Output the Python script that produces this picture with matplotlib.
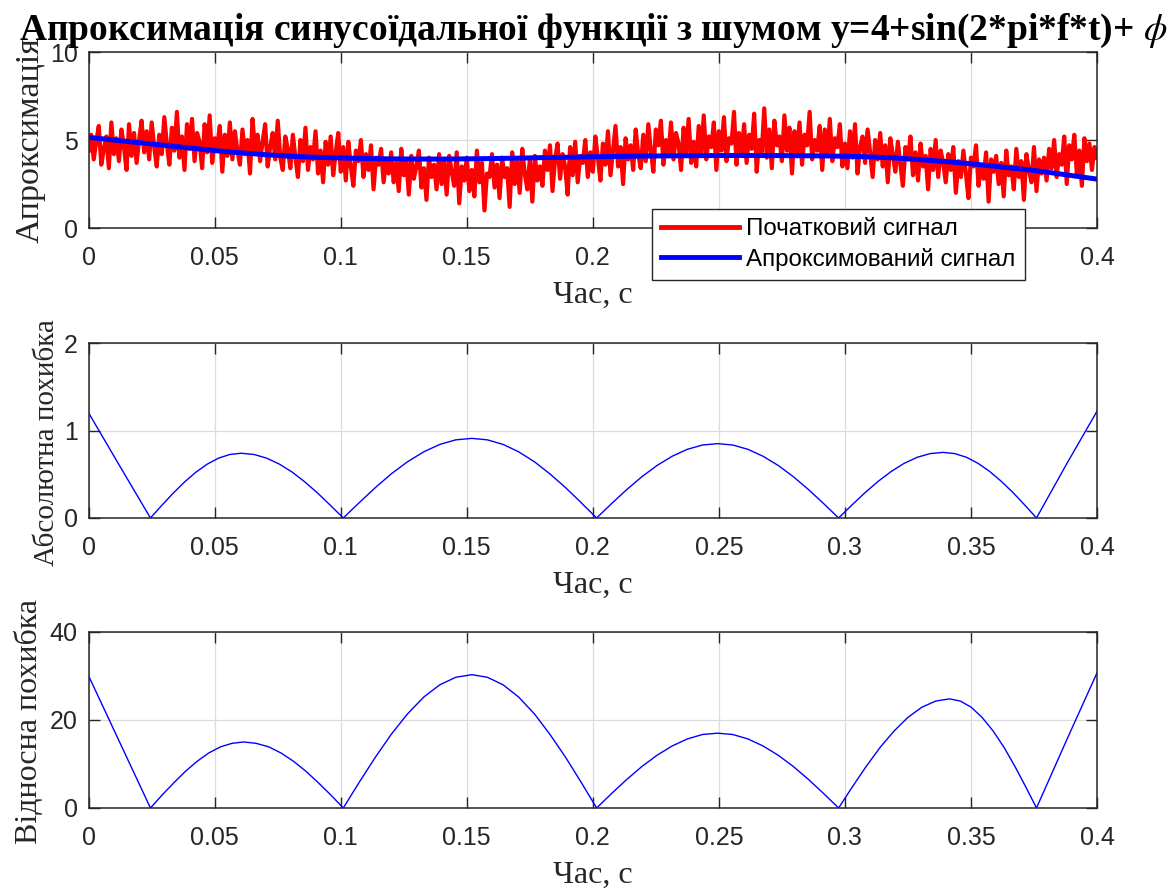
import numpy as np
import matplotlib
matplotlib.use("Agg")
import matplotlib.pyplot as plt
from matplotlib.ticker import FixedLocator

# ---------------- data ----------------
t_sig = np.linspace(0, 0.4, 401)
signal = [
    4.4, 5.3, 3.9, 4.9, 5.8, 3.6, 4.5, 5.2, 3.4, 6.0, 4.2, 5.1, 3.8, 5.6, 4.6, 3.3, 5.9, 4.1, 5.4, 3.7,
    5.0, 6.1, 4.3, 5.5, 3.9, 6.0, 4.6, 3.5, 5.3, 4.2, 6.3, 4.8, 3.6, 5.7, 4.4, 6.6, 4.0, 5.2, 3.3, 5.9,
    4.5, 6.2, 3.8, 5.4, 4.9, 3.4, 5.9, 4.3, 6.4, 3.7, 5.1, 4.6, 5.8, 3.2, 5.3, 4.1, 6.0, 3.9, 5.5, 4.4,
    3.6, 5.6, 4.2, 5.0, 3.1, 6.2, 4.4, 5.3, 3.8, 4.9, 5.9, 3.5, 4.6, 5.4, 3.9, 6.1, 4.0, 3.3, 5.2, 4.5,
    3.4, 5.3, 4.0, 2.9, 5.0, 3.8, 5.7, 3.3, 4.6, 3.9, 5.5, 3.1, 4.4, 2.6, 4.9, 3.6, 5.2, 3.0, 4.3, 5.4,
    3.2, 4.6, 2.7, 4.9, 3.5, 2.4, 4.4, 3.8, 5.0, 2.9, 4.2, 3.3, 4.7, 2.2, 4.0, 3.6, 4.5, 2.6, 3.9, 3.1,
    4.3, 2.6, 3.7, 2.1, 4.5, 3.0, 3.9, 1.9, 4.1, 2.8, 3.5, 4.4, 2.3, 3.4, 1.6, 4.0, 2.9, 3.6, 2.2, 4.2,
    2.5, 3.8, 1.9, 4.1, 3.2, 2.4, 4.3, 1.4, 3.5, 2.7, 4.0, 2.1, 3.3, 1.8, 4.4, 2.6, 3.7, 1.0, 3.1, 2.9,
    4.2, 2.3, 3.6, 1.7, 4.0, 2.9, 3.4, 1.2, 4.3, 2.5, 3.8, 2.0, 4.5, 3.1, 2.2, 3.9, 1.5, 4.1, 2.7, 3.5,
    2.4, 4.4, 3.3, 4.7, 2.1, 3.9, 4.8, 2.8, 4.2, 3.5, 1.9, 4.6, 3.0, 4.9, 2.6, 4.1, 3.7, 5.0, 2.9, 4.3,
    3.2, 5.2, 4.0, 2.7, 4.8, 3.6, 5.5, 3.0, 4.4, 5.8, 3.5, 4.6, 2.5, 5.1, 3.9, 4.7, 3.3, 5.6, 4.2, 3.4,
    5.3, 3.8, 5.9, 4.4, 3.2, 5.6, 4.7, 6.1, 3.6, 5.0, 4.1, 6.0, 3.9, 5.4, 4.8, 3.3, 5.7, 4.3, 6.2, 3.7,
    4.9, 3.5, 5.8, 4.2, 6.4, 3.9, 5.2, 4.6, 6.0, 3.3, 5.5, 4.4, 6.3, 3.8, 5.1, 4.8, 6.6, 3.6, 5.4, 4.1,
    5.9, 3.7, 5.3, 4.5, 6.5, 3.2, 5.0, 4.3, 6.8, 4.0, 5.6, 3.4, 6.1, 4.7, 5.2, 3.8, 6.4, 4.4, 5.7, 3.1,
    5.5, 4.2, 6.0, 3.6, 5.3, 4.7, 6.6, 3.9, 5.0, 4.4, 5.8, 3.3, 5.6, 4.1, 6.2, 3.8, 5.1, 4.6, 5.9, 3.5,
    4.8, 3.4, 5.5, 4.0, 5.9, 3.1, 4.6, 5.2, 3.7, 5.6, 4.3, 2.9, 5.0, 3.9, 5.4, 3.5, 4.7, 2.6, 5.1, 4.2,
    3.2, 4.9, 3.6, 2.4, 4.6, 3.9, 5.2, 3.0, 4.3, 2.7, 4.8, 3.5, 4.1, 2.2, 4.5, 3.3, 5.0, 2.9, 4.4, 3.7,
    2.6, 4.2, 3.3, 4.6, 2.0, 3.8, 2.9, 4.4, 3.1, 1.7, 4.0, 3.5, 4.7, 2.4, 3.6, 2.8, 4.3, 1.5, 3.9, 3.2,
    4.1, 2.5, 3.7, 1.8, 4.4, 3.0, 3.5, 2.2, 4.5, 2.9, 3.8, 1.6, 4.2, 3.3, 2.6, 4.6, 2.1, 3.9, 3.1, 4.0,
    2.7, 4.5, 3.4, 5.0, 2.9, 4.2, 3.6, 5.2, 2.5, 4.7, 3.9, 5.3, 3.1, 4.4, 2.4, 5.1, 3.8, 4.8, 3.3, 4.6,
    4.0,
]

t_fit = np.linspace(0, 0.4, 41)
fit = [5.15, 5.0, 4.85, 4.7, 4.55, 4.4, 4.28, 4.17, 4.08, 4.02,
       3.98, 3.95, 3.93, 3.92, 3.92, 3.93, 3.95, 3.97, 4.0, 4.02,
       4.05, 4.07, 4.09, 4.1, 4.11, 4.12, 4.12, 4.12, 4.11, 4.1,
       4.08, 4.04, 3.98, 3.88, 3.78, 3.65, 3.5, 3.35, 3.18, 2.98, 2.78]

t_abs = [0.0, 0.012, 0.0245,
         0.029, 0.0335, 0.038, 0.0425, 0.047, 0.0515, 0.056, 0.0605,
         0.0656, 0.0706, 0.0757, 0.0808, 0.0858, 0.0909, 0.0959, 0.101,
         0.1074, 0.1138, 0.1201, 0.1265, 0.1329, 0.1393, 0.1456, 0.152,
         0.1582, 0.1644, 0.1706, 0.1768, 0.1829, 0.1891, 0.1953, 0.2015,
         0.2075, 0.2135, 0.2195, 0.2255, 0.2315, 0.2375, 0.2435, 0.2495,
         0.2555, 0.2615, 0.2675, 0.2735, 0.2795, 0.2855, 0.2915, 0.2975,
         0.3027, 0.3079, 0.3131, 0.3183, 0.3234, 0.3286, 0.3338, 0.339,
         0.3436, 0.3483, 0.3529, 0.3575, 0.3621, 0.3668, 0.3714, 0.376,
         0.388, 0.4]
abs_err = [1.2, 0.61, 0.0,
           0.144, 0.283, 0.411, 0.523, 0.615, 0.684, 0.726, 0.74,
           0.726, 0.684, 0.615, 0.523, 0.411, 0.283, 0.144, 0.0,
           0.177, 0.349, 0.506, 0.643, 0.756, 0.841, 0.893, 0.91,
           0.893, 0.841, 0.756, 0.643, 0.506, 0.349, 0.177, 0.0,
           0.166, 0.326, 0.473, 0.601, 0.706, 0.785, 0.834, 0.85,
           0.834, 0.785, 0.706, 0.601, 0.473, 0.326, 0.166, 0.0,
           0.146, 0.287, 0.417, 0.53, 0.623, 0.693, 0.736, 0.75,
           0.736, 0.693, 0.623, 0.53, 0.417, 0.287, 0.146, 0.0,
           0.62, 1.22]

t_rel = [0.0, 0.012, 0.0245,
         0.0291, 0.0338, 0.0384, 0.043, 0.0476, 0.0523, 0.0569, 0.0615,
         0.0664, 0.0714, 0.0763, 0.0813, 0.0862, 0.0911, 0.0961, 0.101,
         0.1074, 0.1138, 0.1201, 0.1265, 0.1329, 0.1393, 0.1456, 0.152,
         0.1582, 0.1644, 0.1706, 0.1768, 0.1829, 0.1891, 0.1953, 0.2015,
         0.2075, 0.2135, 0.2195, 0.2255, 0.2315, 0.2375, 0.2435, 0.2495,
         0.2555, 0.2615, 0.2675, 0.2735, 0.2795, 0.2855, 0.2915, 0.2975,
         0.303, 0.3085, 0.314, 0.3195, 0.325, 0.3305, 0.336, 0.3415,
         0.3458, 0.3501, 0.3544, 0.3588, 0.3631, 0.3674, 0.3717, 0.376,
         0.388, 0.4]
rel_err = [30.0, 15.3, 0.0,
           2.93, 5.74, 8.34, 10.6, 12.5, 13.9, 14.7, 15.0,
           14.7, 13.9, 12.5, 10.6, 8.34, 5.74, 2.93, 0.0,
           5.91, 11.6, 16.8, 21.4, 25.2, 28.0, 29.7, 30.3,
           29.7, 28.0, 25.2, 21.4, 16.8, 11.6, 5.91, 0.0,
           3.32, 6.51, 9.45, 12.0, 14.1, 15.7, 16.7, 17.0,
           16.7, 15.7, 14.1, 12.0, 9.45, 6.51, 3.32, 0.0,
           4.84, 9.50, 13.8, 17.5, 20.6, 22.9, 24.3, 24.8,
           24.3, 22.9, 20.6, 17.5, 13.8, 9.50, 4.84, 0.0,
           15.5, 30.7]

x_ticks = [0, 0.05, 0.1, 0.15, 0.2, 0.25, 0.3, 0.35, 0.4]
x_ticklabels = ["0", "0.05", "0.1", "0.15", "0.2", "0.25", "0.3", "0.35", "0.4"]

title = r"Апроксимація синусоїдальної функції з шумом y=4+sin(2*pi*f*t)+ $\phi$"
xlabel = "Час, с"
ylabels = ["Апроксимація", "Абсолютна похибка", "Відносна похибка"]
yticks = [[0, 5, 10], [0, 1, 2], [0, 20, 40]]
legend_labels = ["Початковий сигнал", "Апроксимований сигнал"]

# ---------------- style ----------------
plt.rcParams["mathtext.fontset"] = "stix"
SERIF = ["Liberation Serif", "DejaVu Serif"]
SANS = ["Liberation Sans", "DejaVu Sans"]
AXC = "#262626"

fig = plt.figure(figsize=(11.7, 8.88), dpi=100)
positions = [
    [0.0758, 0.7432, 0.8618, 0.1982],
    [0.0758, 0.4167, 0.8618, 0.1970],
    [0.0758, 0.0901, 0.8618, 0.1982],
]
axes = [fig.add_axes(p) for p in positions]
ylabel_sizes = [24.5, 21, 23]
ylabel_coords = [(-0.043, 0.5), (-0.028, 0.43), (-0.044, 0.49)]

for ax, yl, yt, ys, yc in zip(axes, ylabels, yticks, ylabel_sizes, ylabel_coords):
    ax.set_xlim(0, 0.4)
    ax.set_ylim(yt[0], yt[-1])
    ax.xaxis.set_major_locator(FixedLocator(x_ticks))
    ax.set_xticklabels(x_ticklabels)
    ax.set_yticks(yt)
    ax.grid(True, color="#dcdcdc", linewidth=0.9)
    ax.set_axisbelow(True)
    ax.tick_params(direction="in", length=8, width=1.0, color=AXC,
                   top=True, right=True, labelsize=18, labelcolor=AXC)
    ax.tick_params(axis="x", pad=13)
    ax.tick_params(axis="y", pad=8)
    for lab in ax.get_xticklabels() + ax.get_yticklabels():
        lab.set_family(SANS)
    for s in ax.spines.values():
        s.set_color(AXC)
        s.set_linewidth(1.1)
    ax.set_xlabel(xlabel, family=SERIF, fontsize=23, color=AXC, labelpad=8)
    ax.set_ylabel(yl, family=SERIF, fontsize=ys, color=AXC)
    ax.yaxis.set_label_coords(*yc)

ax0, ax1, ax2 = axes
l1, = ax0.plot(t_sig, signal, color="red", linewidth=3.0, solid_joinstyle="round")
l2, = ax0.plot(t_fit, fit, color="blue", linewidth=3.6)
ax0.set_title(title, family=SERIF, fontsize=27, fontweight="bold", color="black", pad=9)

ax1.plot(t_abs, abs_err, color="blue", linewidth=1.0)
ax2.plot(t_rel, rel_err, color="blue", linewidth=1.0)

leg = fig.legend([l1, l2], legend_labels, loc="upper left",
                 bbox_to_anchor=(0.557, 0.765), bbox_transform=fig.transFigure,
                 prop={"family": SANS, "size": 17.4}, fancybox=False, framealpha=1,
                 edgecolor=AXC, handlelength=3.2, borderpad=0.4, labelspacing=0.3,
                 handletextpad=0.3, borderaxespad=0)
leg.get_frame().set_linewidth(1.0)
for h in leg.get_lines():
    h.set_linewidth(3.5)

fig.savefig("out.png", dpi=100)
